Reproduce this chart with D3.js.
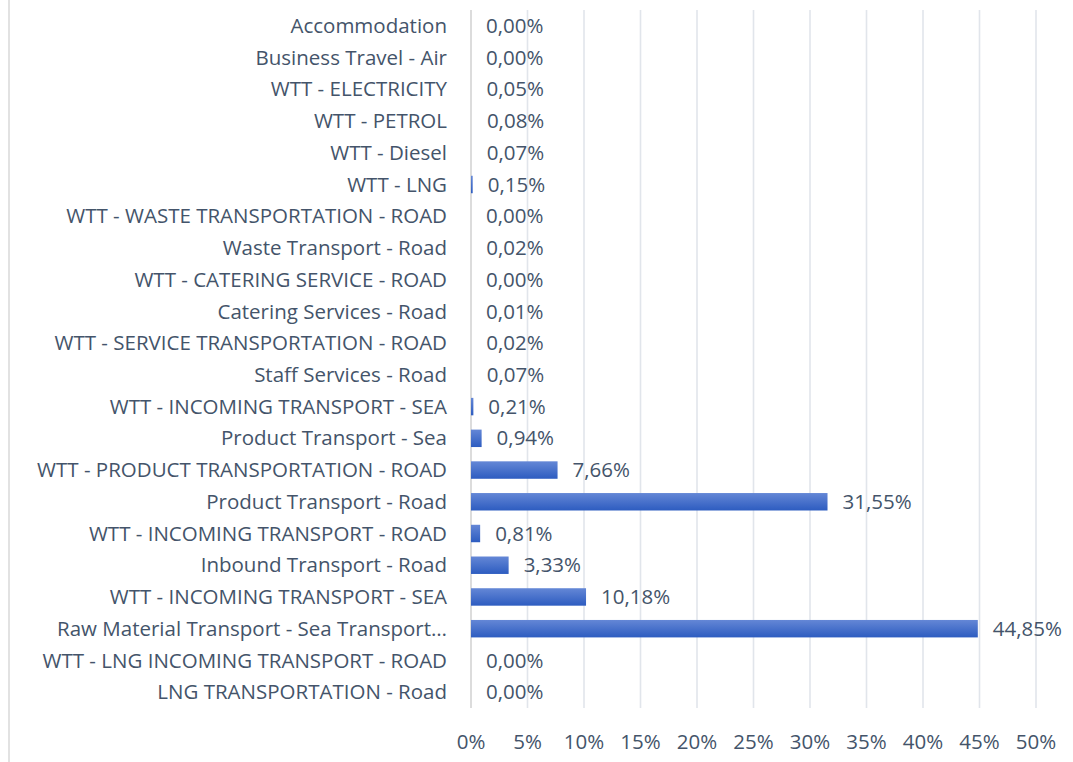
<!DOCTYPE html>
<html>
<head>
<meta charset="utf-8">
<script src="https://cdn.jsdelivr.net/npm/d3@7"></script>
<style>
  body { margin: 0; background: #fff; }
  text { font-family: "Open Sans", sans-serif; fill: #44546a; }
</style>
</head>
<body>
<div id="chart"></div>
<script>
// categories top to bottom
const categories = [
  'Accommodation',
  'Business Travel - Air',
  'WTT - ELECTRICITY',
  'WTT - PETROL',
  'WTT - Diesel',
  'WTT - LNG',
  'WTT - WASTE TRANSPORTATION - ROAD',
  'Waste Transport - Road',
  'WTT - CATERING SERVICE - ROAD',
  'Catering Services - Road',
  'WTT - SERVICE TRANSPORTATION - ROAD',
  'Staff Services - Road',
  'WTT - INCOMING TRANSPORT - SEA',
  'Product Transport - Sea',
  'WTT - PRODUCT TRANSPORTATION - ROAD',
  'Product Transport - Road',
  'WTT - INCOMING TRANSPORT - ROAD',
  'Inbound Transport - Road',
  'WTT - INCOMING TRANSPORT - SEA',
  'Raw Material Transport - Sea Transport…',
  'WTT - LNG INCOMING TRANSPORT - ROAD',
  'LNG TRANSPORTATION - Road'
];
const values = [
  0.00, 0.00, 0.05, 0.08, 0.07, 0.15, 0.00, 0.02, 0.00, 0.01, 0.02,
  0.07, 0.21, 0.94, 7.66, 31.55, 0.81, 3.33, 10.18, 44.85, 0.00, 0.00
];
const xTicks = [0, 5, 10, 15, 20, 25, 30, 35, 40, 45, 50];

const W = 1073, H = 762;
const margin = {top: 10, right: 37, bottom: 54, left: 471};
const fs = 20.5;

const svg = d3.select('#chart').append('svg')
  .attr('width', W)
  .attr('height', H);

// gradient for bars
const grad = svg.append('defs').append('linearGradient')
  .attr('id', 'barGrad')
  .attr('x1', 0).attr('y1', 0).attr('x2', 0).attr('y2', 1);
grad.append('stop').attr('offset', '0%').attr('stop-color', '#6487d6');
grad.append('stop').attr('offset', '100%').attr('stop-color', '#2d5cc0');

const x = d3.scaleLinear().domain([0, 50]).range([margin.left, W - margin.right]);
const y = d3.scaleBand()
  .domain(d3.range(categories.length))
  .range([margin.top, H - margin.bottom])
  .paddingInner(0.45)
  .paddingOuter(0.225);

// chart border (left side visible)
svg.append('line')
  .attr('x1', 9).attr('x2', 9)
  .attr('y1', 0).attr('y2', H)
  .attr('stroke', '#d9d9d9').attr('stroke-width', 1.5);

// gridlines
svg.append('g').selectAll('line')
  .data(xTicks)
  .join('line')
  .attr('x1', d => x(d)).attr('x2', d => x(d))
  .attr('y1', margin.top).attr('y2', H - margin.bottom)
  .attr('stroke', d => d === 0 ? '#d4d4d4' : '#e1e5eb')
  .attr('stroke-width', 1.6);

// bars (tiny ones below ~0.1% vanish, as in the original)
svg.append('g').selectAll('rect')
  .data(values)
  .join('rect')
  .attr('x', x(0))
  .attr('y', (d, i) => y(i))
  .attr('width', d => d < 0.1 ? 0 : x(d) - x(0))
  .attr('height', y.bandwidth())
  .attr('fill', 'url(#barGrad)');

// value labels
svg.append('g').selectAll('text')
  .data(values)
  .join('text')
  .attr('x', d => x(d) + 15)
  .attr('y', (d, i) => y(i) + y.bandwidth() / 2)
  .attr('dy', '0.35em')
  .attr('font-size', fs)
  .text(d => d.toFixed(2).replace('.', ',') + '%');

// category labels
svg.append('g').selectAll('text')
  .data(categories)
  .join('text')
  .attr('x', 447)
  .attr('y', (d, i) => y(i) + y.bandwidth() / 2)
  .attr('dy', '0.35em')
  .attr('text-anchor', 'end')
  .attr('font-size', fs)
  .text(d => d);

// x tick labels
svg.append('g').selectAll('text')
  .data(xTicks)
  .join('text')
  .attr('x', d => x(d))
  .attr('y', 742)
  .attr('dy', '0.35em')
  .attr('text-anchor', 'middle')
  .attr('font-size', fs)
  .text(d => d + '%');
</script>
</body>
</html>
